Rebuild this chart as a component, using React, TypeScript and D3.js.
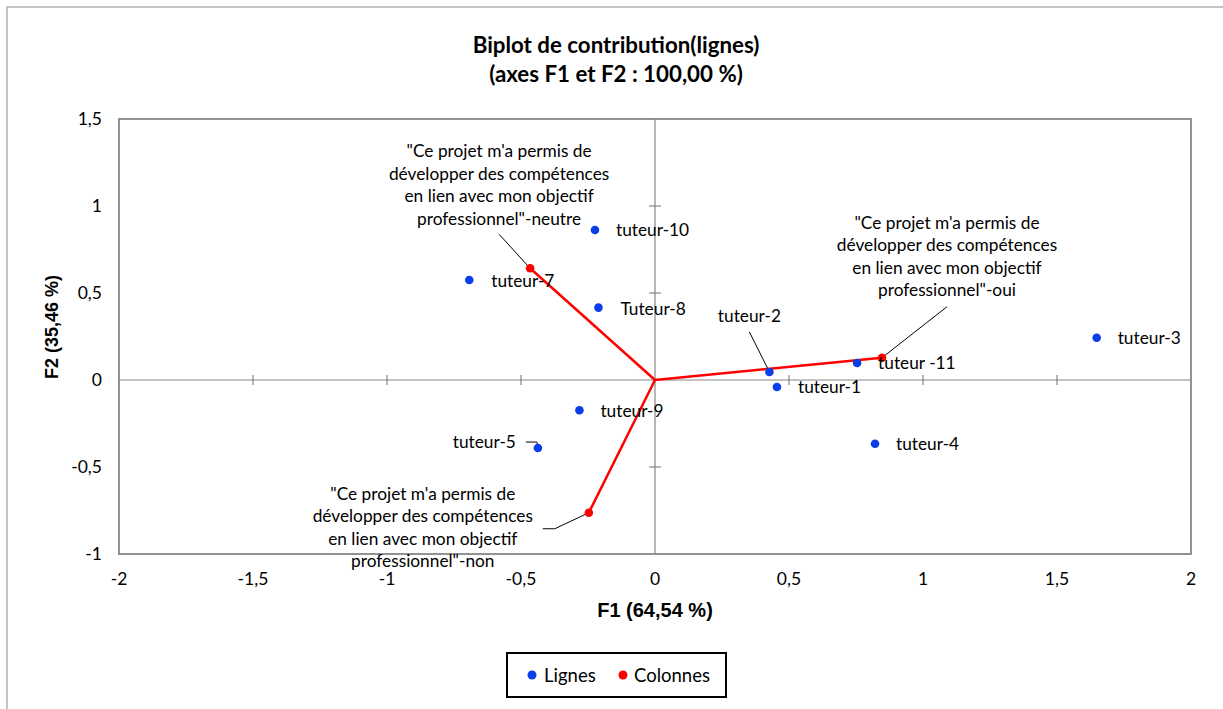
import React from "react";
import * as d3 from "d3";

const titleLines = ["Biplot de contribution(lignes)", "(axes F1 et F2 : 100,00 %)"];
const xTitle = "F1 (64,54 %)";
const yTitle = "F2 (35,46 %)";
const xTicks = [-2, -1.5, -1, -0.5, 0, 0.5, 1, 1.5, 2];
const yTicks = [-1, -0.5, 0, 0.5, 1, 1.5];

const rowLabels = ["tuteur-1", "tuteur-2", "tuteur-3", "tuteur-4", "tuteur-5", "tuteur-7", "Tuteur-8", "tuteur-9", "tuteur-10", "tuteur -11"];
const rowF1 = [0.455, 0.427, 1.648, 0.821, -0.437, -0.693, -0.211, -0.282, -0.224, 0.754];
const rowF2 = [-0.04, 0.046, 0.243, -0.366, -0.391, 0.575, 0.416, -0.174, 0.862, 0.098];

const colPrefix = ["\"Ce projet m'a permis de", "développer des compétences", "en lien avec mon objectif"];
const colSuffix = ["professionnel\"-oui", "professionnel\"-neutre", "professionnel\"-non"];
const colF1 = [0.847, -0.466, -0.247];
const colF2 = [0.128, 0.642, -0.763];

const legendLabels = ["Lignes", "Colonnes"];

const BLUE = "#0a3ee8";
const RED = "#ff0000";
const GRID = "#878787";
const FONT = "Lato, 'Open Sans', sans-serif";
const BFONT = "'Liberation Sans', Arial, sans-serif";

// label layout (pixel offsets from point)
const rowLayout: Record<string, { dx: number; dy: number; anchor?: string; leader?: number[][] }> = {
  "tuteur-2": { dx: -20, dy: -50, anchor: "middle", leader: [[-20, -40], [0, 0]] },
  "tuteur-5": { dx: -22, dy: 0, anchor: "end", leader: [[-12, -6], [-1, -6], [0, -1]] },
  "tuteur-7": { dx: 22, dy: 7 },
  "Tuteur-8": { dx: 22, dy: 7 },
  "tuteur-9": { dx: 21, dy: 7 },
};
const colLayout = [
  { cx: 65, top: -129, leader: [[65, -51], [0, 0]] },
  { cx: -31, top: -111, leader: [[-31, -34], [0, 0]] },
  { cx: -166, top: -13, leader: [[-46, 16], [-34, 16], [0, 0]] },
];

export default function App() {
  const x = d3.scaleLinear().domain([-2, 2]).range([119, 1191]);
  const y = d3.scaleLinear().domain([-1, 1.5]).range([554, 119]);
  const x0 = x(0);
  const y0 = y(0);
  const line = d3.line<number[]>().x((d) => d[0]).y((d) => d[1]);
  const lh = 22.5;
  const fmt = (t: number) => d3.format("")(t).replace(".", ",").replace("−", "-");

  return (
    <svg width={1223} height={709} style={{ position: "absolute", left: 0, top: 0, background: "#fff" }}>
      <rect x={0} y={0} width={1223} height={709} fill="#fff" />
      <rect x={7} y={7} width={1240} height={740} fill="#fff" stroke="#a6a6a6" strokeWidth={1.3} />
      {/* title */}
      <g fontFamily={FONT} fontWeight="bold" fontSize={22.3} textAnchor="middle" fill="#000">
        <text x={616} y={53}>{titleLines[0]}</text>
        <text x={616} y={82}>{titleLines[1]}</text>
      </g>
      {/* plot border */}
      <rect x={x(-2)} y={y(1.5)} width={x(2) - x(-2)} height={y(-1) - y(1.5)} fill="none" stroke={GRID} strokeWidth={1.8} />
      {/* axis lines through origin */}
      <line x1={x(-2)} x2={x(2)} y1={y0} y2={y0} stroke={GRID} strokeWidth={1.2} />
      <line x1={x0} x2={x0} y1={y(1.5)} y2={y(-1)} stroke={GRID} strokeWidth={1.2} />
      {xTicks.filter((t) => t > -2 && t < 2 && t !== 0).map((t) => (
        <line key={"xt" + t} x1={x(t)} x2={x(t)} y1={y0 - 5} y2={y0 + 5} stroke={GRID} strokeWidth={1.2} />
      ))}
      {yTicks.filter((t) => t > -1 && t < 1.5 && t !== 0).map((t) => (
        <line key={"yt" + t} x1={x0 - 6} x2={x0 + 6} y1={y(t)} y2={y(t)} stroke={GRID} strokeWidth={1.2} />
      ))}
      {/* tick labels */}
      <g fontFamily={FONT} fontSize={17.5} fill="#000">
        {xTicks.map((t) => (
          <text key={"xl" + t} x={x(t)} y={585} textAnchor="middle">{fmt(t)}</text>
        ))}
        {yTicks.map((t) => (
          <text key={"yl" + t} x={102} y={y(t) + 6} textAnchor="end">{fmt(t)}</text>
        ))}
      </g>
      {/* axis titles */}
      <text x={655} y={617} textAnchor="middle" fontFamily={BFONT} fontWeight="bold" fontSize={20}>{xTitle}</text>
      <text transform={`translate(58,327) rotate(-90)`} textAnchor="middle" fontFamily={BFONT} fontWeight="bold" fontSize={18}>{yTitle}</text>
      {/* column vectors */}
      {colF1.map((v, i) => (
        <line key={"cv" + i} x1={x0} y1={y0} x2={x(v)} y2={y(colF2[i])} stroke={RED} strokeWidth={2.5} />
      ))}
      {/* leaders */}
      {rowLabels.map((lab, i) => {
        const L = rowLayout[lab];
        if (!L || !L.leader) return null;
        const px = x(rowF1[i]);
        const py = y(rowF2[i]);
        return <path key={"rl" + i} d={line(L.leader.map((p) => [px + p[0], py + p[1]])) || ""} fill="none" stroke="#000" strokeWidth={1} />;
      })}
      {colLayout.map((L, i) => {
        const px = x(colF1[i]);
        const py = y(colF2[i]);
        return <path key={"cl" + i} d={line(L.leader.map((p) => [px + p[0], py + p[1]])) || ""} fill="none" stroke="#000" strokeWidth={1} />;
      })}
      {/* points */}
      {rowF1.map((v, i) => (
        <circle key={"rp" + i} cx={x(v)} cy={y(rowF2[i])} r={4.3} fill={BLUE} />
      ))}
      {colF1.map((v, i) => (
        <circle key={"cp" + i} cx={x(v)} cy={y(colF2[i])} r={4.3} fill={RED} />
      ))}
      {/* labels */}
      <g fontFamily={FONT} fontSize={17.3} fill="#000">
        {rowLabels.map((lab, i) => {
          const L = rowLayout[lab] || { dx: 21, dy: 6 };
          return (
            <text key={"rt" + i} x={x(rowF1[i]) + L.dx} y={y(rowF2[i]) + L.dy} textAnchor={L.anchor || "start"}>{lab}</text>
          );
        })}
        {colLayout.map((L, i) => {
          const px = x(colF1[i]);
          const py = y(colF2[i]);
          const lines = [...colPrefix, colSuffix[i]];
          return lines.map((s, j) => (
            <text key={"ct" + i + "-" + j} x={px + L.cx} y={py + L.top + j * lh} textAnchor="middle">{s}</text>
          ));
        })}
      </g>
      {/* legend */}
      <rect x={507} y={653} width={219} height={44} fill="#fff" stroke="#000" strokeWidth={2} />
      <circle cx={532} cy={675} r={4.5} fill={BLUE} />
      <text x={544} y={681.5} fontFamily={FONT} fontSize={18.5}>{legendLabels[0]}</text>
      <circle cx={623} cy={675} r={4.5} fill={RED} />
      <text x={634} y={681.5} fontFamily={FONT} fontSize={18.5}>{legendLabels[1]}</text>
    </svg>
  );
}
